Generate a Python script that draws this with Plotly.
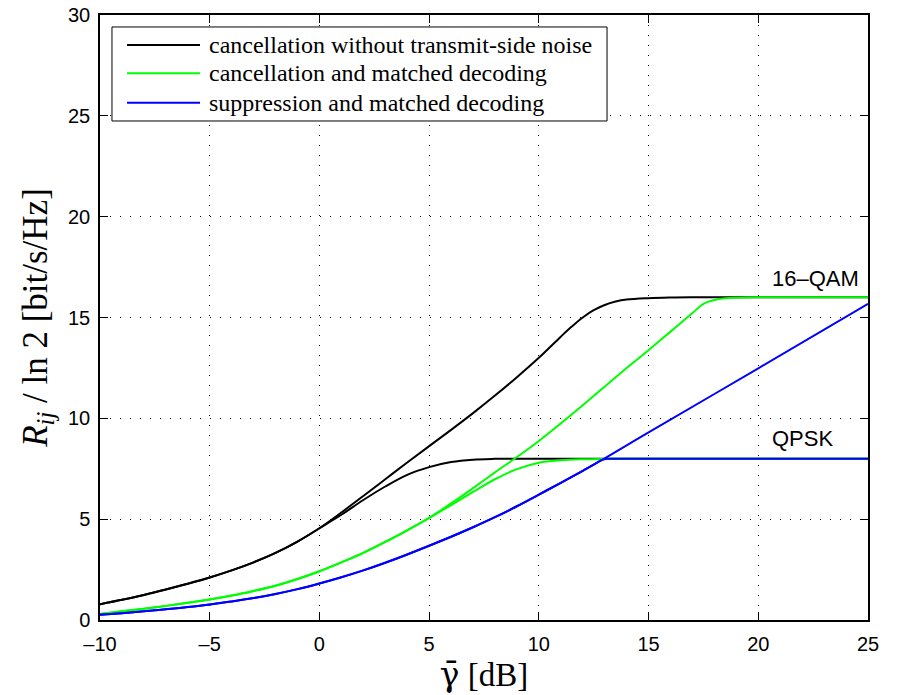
import plotly.graph_objects as go

# ---- data ----
# black: cancellation without transmit-side noise (16-QAM and QPSK)
k16_x = [-10, -9, -8, -7, -6, -5, -4, -3, -2, -1, 0, 1, 2, 3, 4, 5, 6, 7, 8, 9, 10, 11, 11.5, 12, 12.5, 13, 13.5, 14, 15, 16, 17, 25]
k16_y = [0.78, 1.00, 1.24, 1.51, 1.80, 2.11, 2.46, 2.86, 3.33, 3.89, 4.55, 5.33, 6.15, 6.98, 7.81, 8.62, 9.43, 10.26, 11.13, 12.04, 13.0, 14.05, 14.55, 15.0, 15.36, 15.62, 15.79, 15.89, 15.96, 15.99, 16.0, 16.0]
k4_x = [-10, -9, -8, -7, -6, -5, -4, -3, -2, -1, 0, 1, 2, 3, 4, 5, 6, 7, 8, 9, 25]
k4_y = [0.78, 1.00, 1.24, 1.51, 1.80, 2.11, 2.46, 2.86, 3.33, 3.89, 4.55, 5.22, 5.95, 6.62, 7.20, 7.58, 7.83, 7.95, 7.99, 8.0, 8.0]

# green: cancellation and matched decoding
g16_x = [-10, -9, -8, -7, -6, -5, -4, -3, -2, -1, 0, 1, 2, 3, 4, 5, 6, 7, 8, 9, 10, 11, 12, 13, 14, 15, 16, 17, 17.5, 18, 18.5, 19, 20, 25]
g16_y = [0.30, 0.43, 0.56, 0.70, 0.85, 1.02, 1.21, 1.44, 1.70, 2.03, 2.42, 2.86, 3.33, 3.87, 4.45, 5.07, 5.78, 6.54, 7.32, 8.08, 8.88, 9.75, 10.65, 11.57, 12.5, 13.38, 14.3, 15.22, 15.68, 15.87, 15.95, 15.98, 16.0, 16.0]
g4_x = [-10, -9, -8, -7, -6, -5, -4, -3, -2, -1, 0, 1, 2, 3, 4, 5, 6, 7, 8, 9, 10, 11, 12, 13, 14, 25]
g4_y = [0.30, 0.43, 0.56, 0.70, 0.85, 1.02, 1.21, 1.44, 1.70, 2.03, 2.42, 2.86, 3.33, 3.87, 4.45, 5.05, 5.70, 6.35, 6.98, 7.48, 7.80, 7.92, 7.97, 7.99, 8.0, 8.0]

# blue: suppression and matched decoding
b16_x = [-10, -9, -8, -7, -6, -5, -4, -3, -2, -1, 0, 1, 2, 3, 4, 5, 6, 7, 8, 9, 10, 11, 12, 13, 14, 15, 20, 25]
b16_y = [0.26, 0.34, 0.43, 0.53, 0.64, 0.77, 0.92, 1.09, 1.29, 1.53, 1.81, 2.12, 2.46, 2.84, 3.25, 3.68, 4.13, 4.60, 5.10, 5.64, 6.22, 6.80, 7.40, 8.02, 8.66, 9.30, 12.48, 15.68]
b4_x = [-10, -9, -8, -7, -6, -5, -4, -3, -2, -1, 0, 1, 2, 3, 4, 5, 6, 7, 8, 9, 10, 11, 12, 12.5, 12.8, 13.1, 13.5, 25]
b4_y = [0.26, 0.34, 0.43, 0.53, 0.64, 0.77, 0.92, 1.09, 1.29, 1.53, 1.81, 2.12, 2.46, 2.84, 3.25, 3.68, 4.13, 4.60, 5.10, 5.64, 6.22, 6.80, 7.40, 7.70, 7.90, 7.99, 8.0, 8.0]

x_ticks = [-10, -5, 0, 5, 10, 15, 20, 25]
x_ticktext = ["\u201310", "\u20135", "0", "5", "10", "15", "20", "25"]
y_ticks = [0, 5, 10, 15, 20, 25, 30]
y_ticktext = ["0", "5", "10", "15", "20", "25", "30"]

names = ["cancellation without transmit-side noise",
         "cancellation and matched decoding",
         "suppression and matched decoding"]
colors = ["#000000", "#00ff00", "#0000ff"]

labels = ["16\u2013QAM", "QPSK"]
label_x = [20.53, 20.53]
label_y = [16.95, 8.98]

series = [
    (k16_x, k16_y, 0), (k4_x, k4_y, 0),
    (g16_x, g16_y, 1), (g4_x, g4_y, 1),
    (b16_x, b16_y, 2), (b4_x, b4_y, 2),
]

fig = go.Figure()
for xs, ys, ci in series:
    fig.add_trace(go.Scatter(
        x=xs, y=ys, mode="lines", name=names[ci], legendgroup=str(ci),
        showlegend=False,
        line=dict(color=colors[ci], width=2, shape="spline", smoothing=1),
    ))

for t, lx, ly in zip(labels, label_x, label_y):
    fig.add_annotation(x=lx, y=ly, text=t, showarrow=False, xanchor="left",
                       yanchor="middle",
                       font=dict(family="Liberation Sans, Arial", size=22, color="black"))

# ---- legend box drawn in paper coordinates (MATLAB-style legend) ----
leg_x0, leg_x1, leg_y0, leg_y1 = 0.0156, 0.6602, 0.8248, 0.9802
leg_line_x0, leg_line_x1, leg_text_x = 0.0352, 0.1302, 0.1393
leg_rows = [0.9504, 0.9036, 0.8550]
fig.add_shape(type="rect", xref="paper", yref="paper",
              x0=leg_x0, x1=leg_x1, y0=leg_y0, y1=leg_y1,
              line=dict(color="black", width=1), fillcolor="white", layer="above")
for name, col, ry in zip(names, colors, leg_rows):
    fig.add_shape(type="line", xref="paper", yref="paper",
                  x0=leg_line_x0, x1=leg_line_x1, y0=ry, y1=ry,
                  line=dict(color=col, width=2), layer="above")
    fig.add_annotation(xref="paper", yref="paper", x=leg_text_x, y=ry,
                       text=name, showarrow=False, xanchor="left", yanchor="middle",
                       font=dict(family="Liberation Serif, Times New Roman", size=24, color="black"))

axis_common = dict(
    showline=True, linecolor="black", linewidth=1.5, mirror="ticks",
    ticks="inside", ticklen=8, tickcolor="black", tickwidth=1,
    showgrid=True, gridcolor="#000000", gridwidth=1, griddash="1px,9px",
    zeroline=False, automargin=False,
    tickfont=dict(family="Liberation Sans, Arial", size=20, color="black"),
)

fig.update_xaxes(range=[-10, 25], tickvals=x_ticks, ticktext=x_ticktext,
                 title=dict(text="<span style=\"font-family:'DejaVu Serif'\">\u03b3\u0304</span> [dB]",
                            font=dict(family="Liberation Serif, Times New Roman", size=33, color="black"),
                            standoff=4),
                 ticklabelstandoff=5,
                 **axis_common)
fig.update_yaxes(range=[0, 30], tickvals=y_ticks, ticktext=y_ticktext,
                 title=dict(text="<i>R</i><sub><i>ij</i></sub> / ln\u00a02 [bit/s/Hz]",
                            font=dict(family="Liberation Serif, Times New Roman", size=35, color="black"),
                            standoff=10),
                 ticklabelstandoff=4,
                 **axis_common)

fig.update_layout(
    width=898, height=695,
    margin=dict(l=100, r=30, t=15, b=75),
    paper_bgcolor="white", plot_bgcolor="white",
    showlegend=False,
)

fig.write_html("out.html")
